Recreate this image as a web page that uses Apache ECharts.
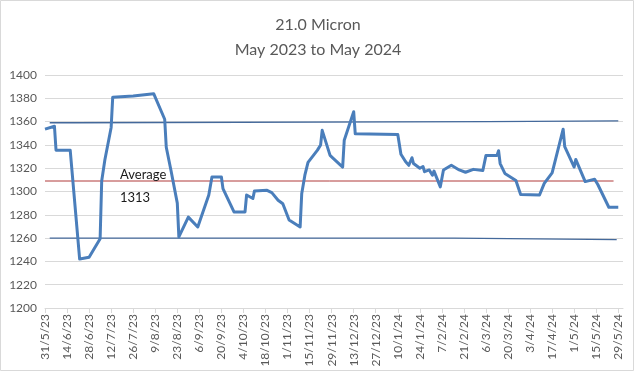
<!DOCTYPE html>
<html>
<head>
<meta charset="utf-8">
<script src="https://cdn.jsdelivr.net/npm/echarts@6/dist/echarts.min.js"></script>
<style>html,body{margin:0;padding:0;background:#fff;}#c{width:636px;height:372px;}</style>
</head>
<body>
<div id="c"></div>
<script>
// Tick labels (every 14 days from 31/5/23)
const tickLabels = ['31/5/23','14/6/23','28/6/23','12/7/23','26/7/23','9/8/23','23/8/23','6/9/23','20/9/23','4/10/23','18/10/23','1/11/23','15/11/23','29/11/23','13/12/23','27/12/23','10/1/24','24/1/24','7/2/24','21/2/24','6/3/24','20/3/24','3/4/24','17/4/24','1/5/24','15/5/24','29/5/24'];

// Price series (date, cents/kg)
const dates = ['2023-05-31','2023-06-06','2023-06-07','2023-06-16','2023-06-22','2023-06-28','2023-07-05','2023-07-06','2023-07-08','2023-07-12','2023-07-13','2023-07-26','2023-08-08','2023-08-15','2023-08-16','2023-08-19','2023-08-23','2023-08-24','2023-08-30','2023-09-05','2023-09-12','2023-09-14','2023-09-20','2023-09-21','2023-09-28','2023-10-05','2023-10-06','2023-10-10','2023-10-11','2023-10-19','2023-10-22','2023-10-26','2023-10-29','2023-11-02','2023-11-09','2023-11-10','2023-11-12','2023-11-14','2023-11-20','2023-11-22','2023-11-23','2023-11-28','2023-11-30','2023-12-06','2023-12-07','2023-12-13','2023-12-14','2024-01-10','2024-01-12','2024-01-15','2024-01-17','2024-01-19','2024-01-20','2024-01-24','2024-01-26','2024-01-27','2024-01-30','2024-02-01','2024-02-02','2024-02-06','2024-02-08','2024-02-13','2024-02-18','2024-02-22','2024-02-27','2024-03-04','2024-03-06','2024-03-13','2024-03-14','2024-03-15','2024-03-18','2024-03-25','2024-03-28','2024-04-09','2024-04-12','2024-04-17','2024-04-24','2024-04-25','2024-05-01','2024-05-02','2024-05-08','2024-05-14','2024-05-16','2024-05-23','2024-05-29'];
const prices = [1353.5,1356,1335.5,1335.5,1242,1243.5,1259.5,1309,1327,1355,1381,1382,1384,1362,1338,1318,1290,1261,1278,1269.5,1297,1312.5,1312.5,1302.5,1282.5,1282.5,1297,1294,1300.5,1301,1299,1292.5,1289.5,1275.5,1269.5,1298,1314,1325,1335.5,1340,1352.5,1331,1328.5,1321,1344,1368.5,1349.5,1349,1332,1325.5,1322.5,1329,1324,1320,1321.5,1317,1318.5,1314,1317.5,1304,1318.5,1322.5,1318.5,1316.5,1319,1318,1331,1331,1335,1324,1315.5,1309.5,1297.5,1297,1307,1316,1353.5,1338.5,1321,1327.5,1308.5,1310.5,1306,1286.5,1286.5];

// Reference lines: [date, value]
const upperDates = ['2023-06-03','2023-06-18','2023-06-18','2024-03-07','2024-03-07','2024-05-29'];
const upperValues = [1359,1359,1360,1360,1360.6,1360.6];
const lowerDates = ['2023-06-03','2024-02-15','2024-02-15','2024-05-28'];
const lowerValues = [1260,1260,1258.7,1258.7];
const avgDates = ['2023-05-31','2024-05-26'];
const avgValues = [1309,1309];
const avgLabel = ['Average', '1313'];

const START = Date.UTC(2023,4,31);
function dayOf(s){const p=s.split('-').map(Number);return Math.round((Date.UTC(p[0],p[1]-1,p[2])-START)/86400000);}
function pairs(ds, vs){return ds.map((d,i)=>[dayOf(d), vs[i]]);}
const tickDays = tickLabels.map((_, i) => i * 14);

const FONT = 'Lato';
const chart = echarts.init(document.getElementById('c'), null, {renderer:'canvas'});
chart.setOption({
  animation: false,
  backgroundColor: '#fff',
  title: {
    text: '21.0 Micron\nMay 2023 to May 2024',
    left: 'center', top: 7,
    textStyle: {fontFamily: FONT, fontSize: 16, fontWeight: 'normal', color: '#595959', lineHeight: 25}
  },
  grid: {left: 45, right: 13, top: 75, bottom: 64},
  xAxis: {
    type: 'value', min: 0, max: 367,
    axisLine: {show: true, lineStyle: {color: '#D9D9D9', width: 1}},
    axisTick: {show: true, customValues: tickDays, length: 5, lineStyle: {color: '#D9D9D9'}},
    axisLabel: {customValues: tickDays, rotate: 90, margin: 6, color: '#595959', fontFamily: FONT, fontSize: 12,
      formatter: v => tickLabels[Math.round(v / 14)] || ''},
    splitLine: {show: false}
  },
  yAxis: {
    type: 'value', min: 1200, max: 1400, interval: 20,
    axisLine: {show: false}, axisTick: {show: false},
    axisLabel: {color: '#595959', fontFamily: FONT, fontSize: 12, margin: 8, formatter: v => String(v)},
    splitLine: {lineStyle: {color: '#D9D9D9', width: 1}}
  },
  series: [
    {type: 'line', data: pairs(avgDates, avgValues), showSymbol: false, lineStyle: {color: '#B03A3A', width: 1}, z: 2},
    {type: 'line', data: pairs(upperDates, upperValues), showSymbol: false, lineStyle: {color: '#44699B', width: 1.3}, z: 2},
    {type: 'line', data: pairs(lowerDates, lowerValues), showSymbol: false, lineStyle: {color: '#44699B', width: 1.3}, z: 2},
    {type: 'line', data: pairs(dates, prices), showSymbol: false, lineStyle: {color: '#4A7EBB', width: 3, join: 'round'}, z: 3}
  ],
  graphic: [
    {type: 'rect', shape: {x: 0.5, y: 0.5, width: 633, height: 370}, style: {fill: 'none', stroke: '#D9D9D9', lineWidth: 1}, z: -1},
    {type: 'text', left: 120, top: 168, style: {text: avgLabel[0], font: '13px Lato', fill: '#1a1a1a'}, z: 10},
    {type: 'text', left: 120, top: 191, style: {text: avgLabel[1], font: '13px Lato', fill: '#1a1a1a'}, z: 10}
  ]
});
</script>
</body>
</html>
